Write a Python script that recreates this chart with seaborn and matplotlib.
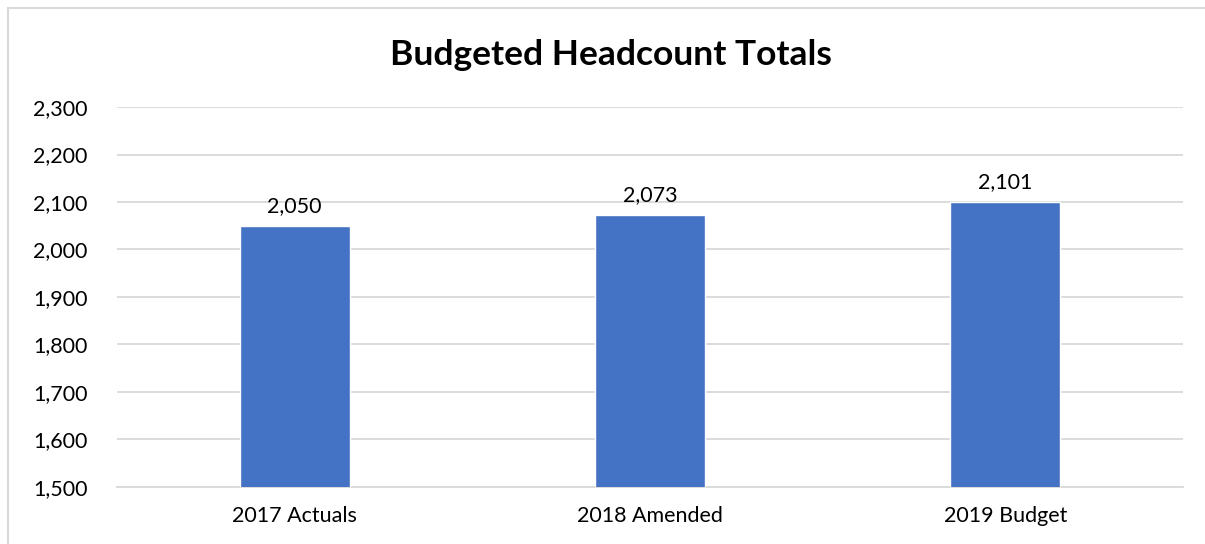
import matplotlib
matplotlib.use("Agg")
import matplotlib.pyplot as plt
import matplotlib.ticker as mticker
from matplotlib.patches import Rectangle
import seaborn as sns
import pandas as pd

categories = ["2017 Actuals", "2018 Amended", "2019 Budget"]
headcount = [2050, 2073, 2101]
y_ticks = [1500, 1600, 1700, 1800, 1900, 2000, 2100, 2200, 2300]

sns.set_theme(style="white")
plt.rcParams["font.family"] = ["Lato", "DejaVu Sans"]

df = pd.DataFrame({"category": categories, "headcount": headcount})

fig = plt.figure(figsize=(12.05, 5.44), dpi=100)
ax = fig.add_axes([0.0971, 0.1048, 0.8846, 0.6985])

sns.barplot(data=df, x="category", y="headcount", color="#4472C4",
            saturation=1, width=0.31, ax=ax, zorder=3)

ax.set_ylim(y_ticks[0], y_ticks[-1])
ax.set_yticks(y_ticks)
ax.yaxis.set_major_formatter(mticker.FuncFormatter(lambda v, p: f"{int(v):,}"))
ax.grid(axis="y", color="#D9D9D9", linewidth=1.3, zorder=0)
ax.set_axisbelow(True)
for s in ["top", "right", "left"]:
    ax.spines[s].set_visible(False)
ax.spines["bottom"].set_color("#D9D9D9")
ax.spines["bottom"].set_linewidth(1.3)
ax.set_xlabel("")
ax.set_ylabel("")
ax.tick_params(axis="both", length=0, labelsize=15.5, colors="black")
ax.tick_params(axis="y", pad=21)
ax.tick_params(axis="x", pad=14)

for c in ax.containers:
    ax.bar_label(c, labels=[f"{v:,}" for v in headcount], padding=7,
                 fontsize=15.5, color="black")

fig.text(0.507, 0.899, "Budgeted Headcount Totals", ha="center", va="center",
         fontsize=25.5, fontweight="bold", color="black")

# chart frame
fig.patches.append(Rectangle((8 / 1205, -0.05), 1.2, 1 - 8 / 544 + 0.05,
                             transform=fig.transFigure, fill=False,
                             edgecolor="#D9D9D9", linewidth=1.5))

fig.savefig("out.png", dpi=100)
